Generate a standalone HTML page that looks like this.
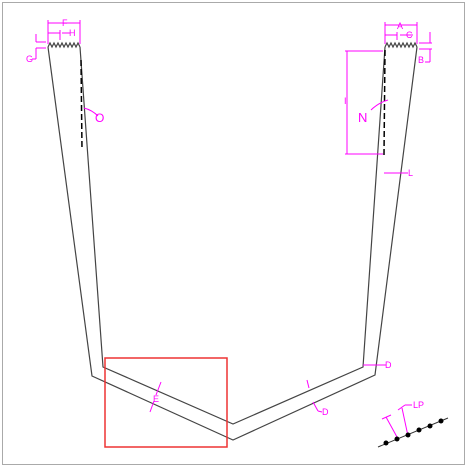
<!DOCTYPE html>
<html><head><meta charset="utf-8"><style>
html,body{margin:0;padding:0;background:#fff}
svg{display:block}
text{font-family:"Liberation Sans",sans-serif;fill:#f0f}
</style></head><body>
<svg width="468" height="468" viewBox="0 0 468 468">
<rect x="2.5" y="2.5" width="462" height="462" fill="#fff" stroke="#aaa" stroke-width="1"/>
<g stroke="#444" stroke-width="1.2" fill="none">
<polyline points="48,47 92,376 233,440 375,375 417,47"/>
<polyline points="80,47 103,367 233,424 363,367 385,47"/>
<path d="M48,47 l2,-4 l2,4 l2,-4 l2,4 l2,-4 l2,4 l2,-4 l2,4 l2,-4 l2,4 l2,-4 l2,4 l2,-4 l2,4 l2,-4 l2,4" />
<path d="M385,47 l2,-4 l2,4 l2,-4 l2,4 l2,-4 l2,4 l2,-4 l2,4 l2,-4 l2,4 l2,-4 l2,4 l2,-4 l2,4 l2,-4 l2,4" />
</g>
<g stroke="#000" stroke-width="1.5" stroke-dasharray="6,3">
<line x1="81" y1="60" x2="82" y2="150"/>
<line x1="385" y1="50" x2="384" y2="155"/>
</g>
<rect x="105" y="358" width="122" height="89" fill="none" stroke="#e33" stroke-width="1.5"/>
<g stroke="#f0f" stroke-width="1" fill="none">
<line x1="48" y1="23" x2="80" y2="23"/><line x1="48" y1="33" x2="60" y2="33"/><line x1="62" y1="33" x2="70" y2="33"/>
<line x1="48" y1="20" x2="48" y2="44"/><line x1="80" y1="20" x2="80" y2="44"/><line x1="60" y1="30" x2="60" y2="40"/>
<line x1="36" y1="42" x2="46" y2="42"/><line x1="36" y1="48" x2="46" y2="48"/><line x1="36" y1="34" x2="36" y2="42"/><line x1="36" y1="48" x2="36" y2="59"/><line x1="36" y1="59" x2="32" y2="59"/>
<path d="M84,108 Q92,110 98,116"/>
<line x1="385" y1="25" x2="417" y2="25"/><line x1="385" y1="35" x2="397" y2="35"/><line x1="400" y1="35" x2="413" y2="35"/>
<line x1="385" y1="22" x2="385" y2="44"/><line x1="417" y1="22" x2="417" y2="44"/><line x1="397" y1="32" x2="397" y2="40"/>
<line x1="419" y1="43" x2="432" y2="43"/><line x1="419" y1="49" x2="432" y2="49"/><line x1="430" y1="32" x2="430" y2="43"/><line x1="430" y1="49" x2="430" y2="62"/><line x1="430" y1="62" x2="425" y2="62"/>
<line x1="345" y1="51" x2="383" y2="51"/><line x1="345" y1="154" x2="383" y2="154"/><line x1="347" y1="51" x2="347" y2="154"/>
<path d="M371,110 Q378,103 388,100"/>
<line x1="384" y1="173" x2="400" y2="173"/><line x1="400" y1="173" x2="408" y2="173"/>
<line x1="363" y1="365" x2="380" y2="365"/><line x1="380" y1="365" x2="386" y2="365"/>
<line x1="161" y1="382" x2="156" y2="395"/><line x1="154" y1="401" x2="150" y2="412"/>
<line x1="307" y1="380" x2="309" y2="388"/><line x1="313" y1="402" x2="318" y2="411"/><line x1="318" y1="411" x2="322" y2="412"/>
<line x1="382" y1="419" x2="391" y2="415"/><line x1="386" y1="417" x2="397" y2="437"/>
<line x1="398" y1="410" x2="405" y2="405"/><line x1="402" y1="408" x2="408" y2="436"/><line x1="405" y1="405" x2="412" y2="405"/>
</g>
<g font-size="9">
<text x="62" y="26">F</text><text x="69" y="36">H</text><text x="26" y="62">G</text>
<text x="95" y="122" font-size="12">O</text>
<text x="397" y="29">A</text><text x="406" y="38">C</text><text x="418" y="63">B</text>
<text x="344" y="104">I</text><text x="358" y="122" font-size="13">N</text>
<text x="408" y="176">L</text><text x="385" y="368">D</text>
<text x="153" y="402">E</text><text x="322" y="415">D</text><text x="413" y="408">LP</text>
</g>
<g>
<line x1="378" y1="447" x2="448" y2="418" stroke="#333" stroke-width="1"/>
<g fill="#000">
<circle cx="386" cy="443" r="2.5"/><circle cx="397" cy="439" r="2.5"/><circle cx="408" cy="435" r="2.5"/><circle cx="419" cy="430" r="2.5"/><circle cx="430" cy="426" r="2.5"/><circle cx="441" cy="421" r="2.5"/>
</g></g>
</svg>
</body></html>
